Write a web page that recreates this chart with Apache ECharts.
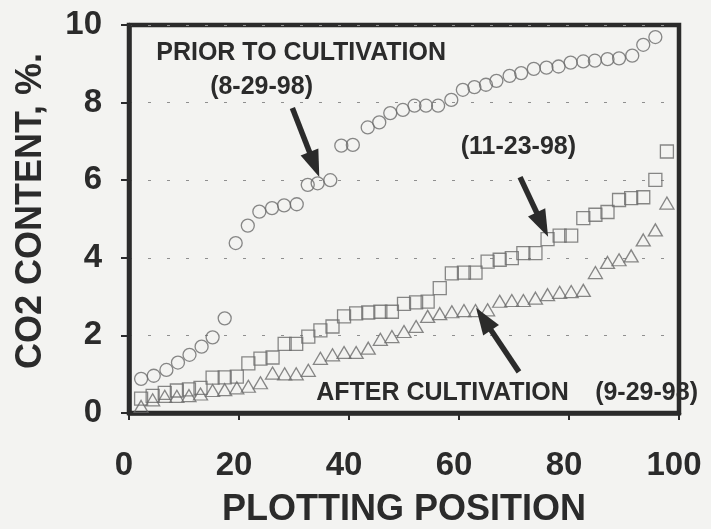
<!DOCTYPE html>
<html>
<head>
<meta charset="utf-8">
<script src="https://cdn.jsdelivr.net/npm/echarts@6/dist/echarts.min.js"></script>
<style>
  html, body { margin: 0; padding: 0; background: #f3f3f1; }
  #chart { width: 711px; height: 529px; }
</style>
</head>
<body>
<div id="chart"></div>
<script>
// Axis ticks
const xTicks = [0, 20, 40, 60, 80, 100];
const yTicks = [0, 2, 4, 6, 8, 10];

// Prior to cultivation (8-29-98): plotting position vs CO2 content, %
const priorPos = [2.2, 4.5, 6.8, 8.9, 11.0, 13.2, 15.2, 17.4, 19.4, 21.6, 23.7, 26.0, 28.2, 30.5, 32.5,
  34.3, 36.6, 38.6, 40.7, 43.4, 45.5, 47.5, 49.8, 51.9, 54.0, 56.2, 58.6, 60.7, 62.8, 64.9,
  66.8, 69.2, 71.3, 73.6, 75.9, 78.1, 80.3, 82.6, 84.7, 87.0, 89.1, 91.5, 93.5, 95.7];
const priorCO2 = [0.88, 0.96, 1.11, 1.30, 1.50, 1.71, 1.95, 2.44, 4.38, 4.83, 5.19, 5.28, 5.35, 5.38, 5.88,
  5.92, 6.00, 6.89, 6.91, 7.36, 7.49, 7.73, 7.81, 7.92, 7.92, 7.92, 8.07, 8.33, 8.40, 8.46,
  8.56, 8.69, 8.76, 8.87, 8.90, 8.93, 9.03, 9.06, 9.08, 9.12, 9.14, 9.21, 9.49, 9.69];

// 11-23-98
const novPos = [2.2, 4.3, 6.5, 8.7, 10.9, 13.0, 15.2, 17.4, 19.6, 21.7, 23.9, 26.1, 28.3, 30.4, 32.6,
  34.8, 37.0, 39.1, 41.3, 43.5, 45.7, 47.8, 50.0, 52.2, 54.3, 56.5, 58.7, 60.9, 63.0, 65.2,
  67.4, 69.6, 71.7, 73.9, 76.1, 78.3, 80.4, 82.6, 84.8, 87.0, 89.1, 91.3, 93.5, 95.7, 97.8];
const novCO2 = [0.37, 0.44, 0.52, 0.58, 0.61, 0.65, 0.91, 0.92, 0.94, 1.28, 1.40, 1.43, 1.78, 1.78, 1.97,
  2.13, 2.23, 2.49, 2.57, 2.59, 2.61, 2.61, 2.81, 2.85, 2.87, 3.22, 3.60, 3.62, 3.62, 3.90,
  3.95, 3.99, 4.12, 4.12, 4.48, 4.57, 4.57, 5.02, 5.11, 5.18, 5.49, 5.54, 5.56, 6.01, 6.74];

// After cultivation (9-29-98)
const afterPos = [2.2, 4.3, 6.5, 8.7, 10.9, 13.0, 15.2, 17.4, 19.6, 21.7, 23.9, 26.1, 28.3, 30.4, 32.6,
  34.8, 37.0, 39.1, 41.3, 43.5, 45.7, 47.8, 50.0, 52.2, 54.3, 56.5, 58.7, 60.9, 63.0, 65.2,
  67.4, 69.6, 71.7, 73.9, 76.1, 78.3, 80.4, 82.6, 84.8, 87.0, 89.1, 91.3, 93.5, 95.7, 97.8];
const afterCO2 = [0.17, 0.34, 0.43, 0.43, 0.45, 0.49, 0.58, 0.60, 0.65, 0.69, 0.78, 1.03, 1.01, 1.01, 1.10,
  1.41, 1.50, 1.56, 1.56, 1.67, 1.90, 1.97, 2.10, 2.23, 2.49, 2.56, 2.61, 2.64, 2.64, 2.66,
  2.88, 2.90, 2.90, 2.96, 3.05, 3.11, 3.13, 3.16, 3.62, 3.88, 3.95, 4.05, 4.46, 4.72, 5.41];

// Annotation text, anchored in data coordinates
const labels = [
  { text: 'PRIOR TO CULTIVATION', at: [31.3, 9.28] },
  { text: '(8-29-98)', at: [24.1, 8.40] },
  { text: '(11-23-98)', at: [70.8, 6.86] },
  { text: 'AFTER CULTIVATION', at: [57.0, 0.52] },
  { text: '(9-29-98)', at: [94.1, 0.52] }
];
// Arrows: [tail, head] in data coordinates
const arrows = [
  [[29.7, 7.86], [34.6, 6.08]],
  [[71.1, 6.08], [76.2, 4.54]],
  [[70.9, 1.06], [63.1, 2.71]]
];

const FONT = "'Liberation Sans', Arial, Helvetica, sans-serif";
const INK = '#2b2b2b';
const MARK = '#6a6a6a';

const pairs = (xs, ys) => xs.map((x, i) => [x, ys[i]]);

function markerSeries(name, symbol, size, xs, ys) {
  return {
    name, type: 'scatter', symbol, symbolSize: size,
    data: pairs(xs, ys),
    itemStyle: { color: 'transparent', borderColor: MARK, borderWidth: 1.3 },
    emphasis: { disabled: true },
    z: 3
  };
}

const chart = echarts.init(document.getElementById('chart'), null, { renderer: 'canvas' });

chart.setOption({
  animation: false,
  backgroundColor: '#f3f3f1',
  grid: {
    left: 129, right: 32, top: 25, bottom: 116,
    outerBoundsMode: 'none', containLabel: false,
    show: true, borderColor: INK, borderWidth: 4.5, backgroundColor: 'transparent'
  },
  xAxis: {
    type: 'value', min: xTicks[0], max: xTicks[xTicks.length - 1], interval: xTicks[1] - xTicks[0],
    name: 'PLOTTING POSITION', nameLocation: 'middle', nameGap: 79,
    nameTextStyle: { fontFamily: FONT, fontWeight: 'bold', fontSize: 36, color: INK },
    axisLine: { lineStyle: { color: INK, width: 4.5 } },
    axisTick: { show: true, length: 7, lineStyle: { color: INK, width: 2 } },
    axisLabel: { fontFamily: FONT, fontWeight: 'bold', fontSize: 33, color: INK, margin: 36, padding: [0, 10, 0, 0] },
    splitLine: { show: false }
  },
  yAxis: {
    type: 'value', min: yTicks[0], max: yTicks[yTicks.length - 1], interval: yTicks[1] - yTicks[0],
    name: 'CO2 CONTENT, %.', nameLocation: 'middle', nameGap: 80,
    nameTextStyle: { fontFamily: FONT, fontWeight: 'bold', fontSize: 36, color: INK, padding: [0, 0, 0, 16] },
    axisLine: { lineStyle: { color: INK, width: 4.5 } },
    axisTick: { show: true, length: 8, lineStyle: { color: INK, width: 2 } },
    axisLabel: { fontFamily: FONT, fontWeight: 'bold', fontSize: 33, color: INK, margin: 27 },
    splitLine: { show: true, lineStyle: { color: '#8f8f8f', width: 1.2, type: [3, 16] } }
  },
  series: [
    markerSeries('8-29-98', 'circle', 13, priorPos, priorCO2),
    markerSeries('11-23-98', 'rect', 13, novPos, novCO2),
    markerSeries('9-29-98', 'triangle', [14, 12], afterPos, afterCO2)
  ]
});

// Annotations placed through the grid's own coordinate system
function arrowShapes(from, to) {
  const a = chart.convertToPixel({ gridIndex: 0 }, from);
  const b = chart.convertToPixel({ gridIndex: 0 }, to);
  const dx = b[0] - a[0], dy = b[1] - a[1];
  const len = Math.hypot(dx, dy);
  const ux = dx / len, uy = dy / len, px = -uy, py = ux;
  const headLen = 27, headHalf = 9.5;
  const bx = b[0] - ux * headLen, by = b[1] - uy * headLen;
  return [
    { type: 'line', z: 10, shape: { x1: a[0], y1: a[1], x2: bx + ux * 3, y2: by + uy * 3 },
      style: { stroke: INK, lineWidth: 5.5 } },
    { type: 'polygon', z: 10, shape: { points: [[b[0], b[1]], [bx + px * headHalf, by + py * headHalf], [bx - px * headHalf, by - py * headHalf]] },
      style: { fill: INK } }
  ];
}

const elements = [];
labels.forEach(l => {
  const p = chart.convertToPixel({ gridIndex: 0 }, l.at);
  elements.push({
    type: 'text', x: p[0], y: p[1], z: 10,
    style: { text: l.text, font: 'bold 25px ' + FONT, fill: INK, align: 'center', verticalAlign: 'middle' }
  });
});
arrows.forEach(ar => elements.push(...arrowShapes(ar[0], ar[1])));
chart.setOption({ graphic: { elements } });
</script>
</body>
</html>
